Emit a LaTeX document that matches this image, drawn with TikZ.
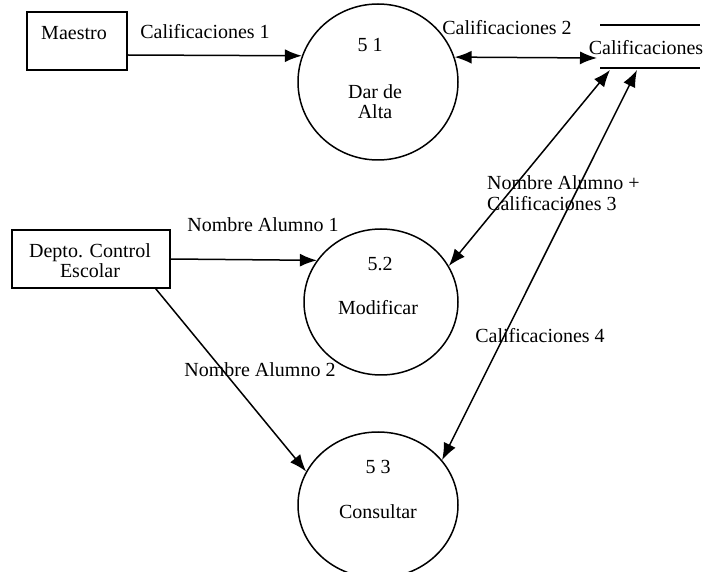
\documentclass[tikz,border=0pt]{standalone}
\usepackage{fontspec}
\setmainfont{Liberation Serif}
\usetikzlibrary{shapes.geometric,arrows.meta}
\begin{document}
\begin{tikzpicture}[x=1pt,y=-1pt,
  every node/.style={font=\fontsize{20}{23}\selectfont},
  ent/.style={draw,line width=1.5pt,inner sep=0pt},
  proc/.style={draw,ellipse,line width=1.5pt,inner sep=0pt},
  lbl/.style={inner sep=1pt},
  flow/.style={line width=1.5pt,-{Latex[length=17pt,width=13pt]}},
  flow2/.style={line width=1.5pt,{Latex[length=17pt,width=13pt]}-{Latex[length=17pt,width=13pt]}}]
\path[use as bounding box] (0,0) rectangle (705,572);
\clip (0,0) rectangle (705,572);
% external entities
\node[ent,minimum width=100pt,minimum height=58pt] (maestro) at (77,41) {};
\node[lbl] (tmaestro) at (74,33) {Maestro};
\node[ent,minimum width=158pt,minimum height=58pt] (depto) at (91,259) {};
\node[lbl,align=center] (tdepto) at (90,261) {Depto. Control\\[-3pt]Escolar};
% processes
\node[proc,minimum width=160pt,minimum height=156pt] (p1) at (378,82) {};
\node[proc,minimum width=154pt,minimum height=146pt] (p2) at (381,302) {};
\node[proc,minimum width=160pt,minimum height=146pt] (p3) at (378,505) {};
\node[lbl] (n1) at (370,45) {5 1};
\node[lbl,align=center] (t1) at (375,102) {Dar de\\[-3pt]Alta};
\node[lbl] (n2) at (380,264) {5.2};
\node[lbl] (t2) at (378,308) {Modificar};
\node[lbl] (n3) at (378,467) {5 3};
\node[lbl] (t3) at (378,512) {Consultar};
% data store
\coordinate (stl) at (600,25);
\coordinate (str) at (700,25);
\coordinate (sbl) at (600,68);
\coordinate (sbr) at (700,68);
\draw[line width=1.5pt] (stl) -- (str);
\draw[line width=1.5pt] (sbl) -- (sbr);
\node[lbl] (store) at (646,48) {Calificaciones};
\coordinate (sin) at (597,58);
\coordinate (sa) at (610,70);
\coordinate (sb) at (637,70);
% flows
\draw[flow] ([yshift=-14pt]maestro.east) -- (p1.161);
\draw[flow2] (p1.18) -- (sin);
\draw[flow2] (p2.28) -- (sa);
\draw[flow2] (p3.35) -- (sb);
\draw[flow] (depto.east) -- (p2.147);
\draw[flow] ([xshift=-15pt]depto.south east) -- (p3.155);
% labels
\node[lbl] (l1) at (205,32) {Calificaciones 1};
\node[lbl] (l2) at (507,28) {Calificaciones 2};
\node[lbl] (l3) at (263,225) {Nombre Alumno 1};
\node[lbl,align=left,anchor=north west] (l4) at (486,174) {Nombre Alumno +\\[-2pt]Calificaciones 3};
\node[lbl] (l5) at (540,336) {Calificaciones 4};
\node[lbl] (l6) at (260,370) {Nombre Alumno 2};
\end{tikzpicture}
\end{document}
